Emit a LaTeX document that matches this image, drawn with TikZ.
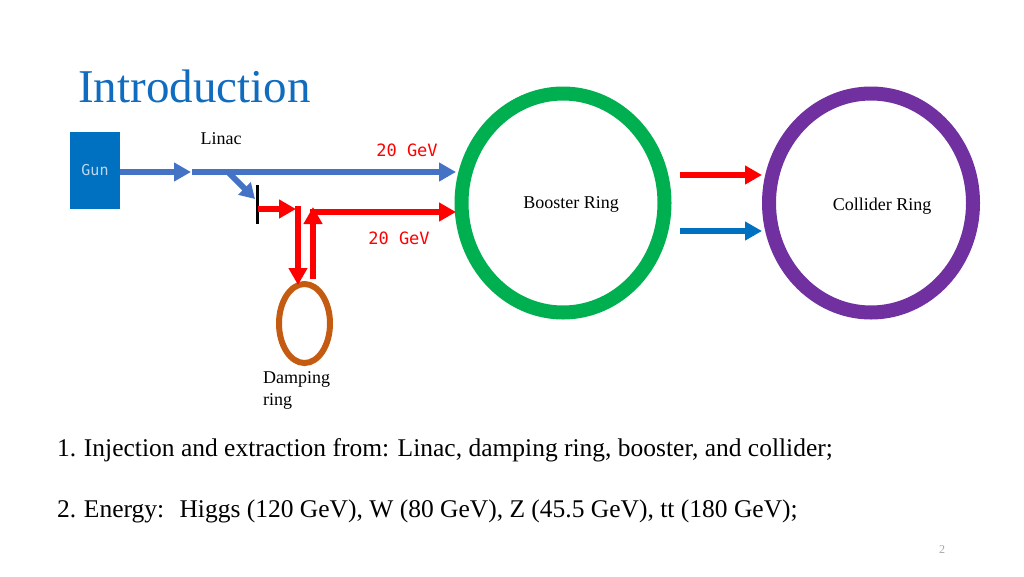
\documentclass[tikz,border=0pt]{standalone}
\usepackage{fontspec}
\setmainfont{Liberation Serif}
\setmonofont{DejaVu Sans Mono}
\usetikzlibrary{arrows.meta,shapes.geometric,positioning}
\definecolor{titleblue}{RGB}{16,108,190}
\definecolor{beamblue}{RGB}{68,114,196}
\definecolor{gunblue}{RGB}{0,112,192}
\definecolor{guntext}{RGB}{189,215,238}
\definecolor{ringgreen}{RGB}{0,176,80}
\definecolor{ringpurple}{RGB}{112,48,160}
\definecolor{ringbrown}{RGB}{197,90,17}
\tikzset{
  beam/.style={line width=6pt,-{Triangle[length=17pt,width=18pt]}},
  plain/.style={font=\fontsize{18}{22}\selectfont},
  energy/.style={red,font=\ttfamily\fontsize{17}{20}\selectfont},
  item/.style={anchor=base west,inner sep=0,font=\fontsize{25.5}{30}\selectfont},
}
\begin{document}
\begin{tikzpicture}[x=1pt,y=-1pt]
    \useasboundingbox[fill=white] (0,0) rectangle (1024,576);
    \node[anchor=base west,text=titleblue,inner sep=0,font=\fontsize{47}{50}\selectfont] (title) at (78,102) {Introduction};
    \node[fill=gunblue,minimum width=50pt,minimum height=77pt,inner sep=0,text=guntext,font=\ttfamily\fontsize{15}{18}\selectfont] (gun) at (95,170) {Gun};
    \node[plain] (linac) at (221,139) {Linac};
    \coordinate (L_0) at (192,172);
    \coordinate (L_1) at (228,172);
    \coordinate (L_2) at (456,172);
    \coordinate (gun_end) at (191,172);
    \coordinate (kick) at (255,199);
    \coordinate (bar_top) at (257,185);
    \coordinate (bar_bot) at (257,224);
    \coordinate (R_0) at (258,209);
    \coordinate (R_1) at (296,209);
    \coordinate (R_2) at (298,206);
    \coordinate (R_3) at (298,285);
    \coordinate (U_0) at (313,279);
    \coordinate (U_1) at (313,207);
    \coordinate (H_0) at (310,212);
    \coordinate (H_1) at (456,212);
    \node[ellipse,draw=ringgreen,line width=14pt,minimum width=203pt,minimum height=219pt,inner sep=0] (booster) at (563,203) {};
    \node[ellipse,draw=ringpurple,line width=14pt,minimum width=204pt,minimum height=219pt,inner sep=0] (collider) at (871,203) {};
    \node[ellipse,draw=ringbrown,line width=6pt,minimum width=51pt,minimum height=79pt,inner sep=0] (damping) at (304.5,323.5) {};
    \node[plain] (boosterlabel) at (571,204) {Booster Ring};
    \node[plain] (colliderlabel) at (882,206) {Collider Ring};
    \node[plain,anchor=north west,align=left,inner sep=0] (dampinglabel) at (263,371) {Damping\\ring};
    \node[energy] (E_1) at (407,150) {20 GeV};
    \node[energy] (E_2) at (399,238) {20 GeV};
    \draw[beam,beamblue] (gun.east |- L_0) -- (gun_end);
    \draw[beam,beamblue] (L_0) -- (L_2);
    \draw[beam,beamblue,line width=6pt,-{Triangle[length=15pt,width=17pt]}] (L_1) -- (kick);
    \draw[line width=3pt] (bar_top) -- (bar_bot);
    \draw[beam,red] (R_0) -- (R_1);
    \draw[beam,red] (R_2) -- (R_3);
    \draw[beam,red] (U_0) -- (U_1);
    \draw[beam,red] (H_0) -- (H_1);
    \coordinate (T_0) at (680,175);
    \coordinate (T_1) at (762,175);
    \coordinate (B_0) at (680,231);
    \coordinate (B_1) at (762,231);
    \draw[beam,red] (T_0) -- (T_1);
    \draw[beam,gunblue] (B_0) -- (B_1);
    \node[item] (item_1) at (57,456) {1.\hspace{0.3em}Injection and extraction from: Linac, damping ring, booster, and collider;};
    \node[item] (item_2) at (57,517) {2.\hspace{0.3em}Energy:\hspace{0.6em}Higgs (120 GeV), W (80 GeV), Z (45.5 GeV), tt (180 GeV);};
    \node[text=gray!70,font=\fontsize{12}{14}\selectfont] (page) at (942,550) {2};
\end{tikzpicture}
\end{document}
